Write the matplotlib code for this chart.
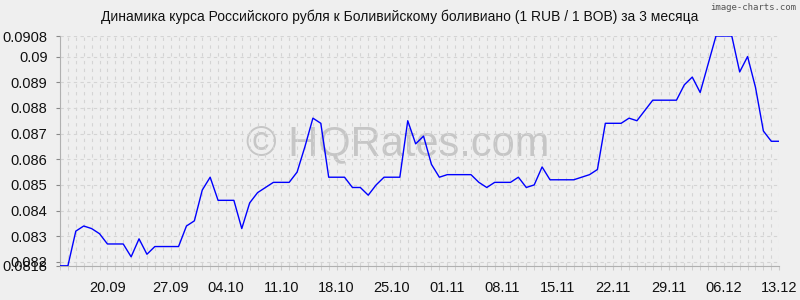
#!/usr/bin/env python
"""RUB / BOB exchange rate over 3 months, styled like the image-charts original."""
import numpy as np
import matplotlib
matplotlib.use("Agg")
import matplotlib.pyplot as plt
from matplotlib.ticker import FixedLocator

TITLE = "Динамика курса Российского рубля к Боливийскому боливиано (1 RUB / 1 BOB) за 3 месяца"

# daily rate, 13.09 .. 13.12
RATES = [
    0.08185, 0.08185, 0.0832, 0.0834, 0.0833, 0.0831, 0.0827, 0.0827, 0.0827, 0.0822,
    0.0829, 0.0823, 0.0826, 0.0826, 0.0826, 0.0826, 0.0834, 0.0836, 0.0848, 0.0853,
    0.0844, 0.0844, 0.0844, 0.0833, 0.0843, 0.0847, 0.0849, 0.0851, 0.0851, 0.0851,
    0.0855, 0.0865, 0.0876, 0.0874, 0.0853, 0.0853, 0.0853, 0.0849, 0.0849, 0.0846,
    0.0850, 0.0853, 0.0853, 0.0853, 0.0875, 0.0866, 0.0869, 0.0858, 0.0853, 0.0854,
    0.0854, 0.0854, 0.0854, 0.0851, 0.0849, 0.0851, 0.0851, 0.0851, 0.0853, 0.0849,
    0.0850, 0.0857, 0.0852, 0.0852, 0.0852, 0.0852, 0.0853, 0.0854, 0.0856, 0.0874,
    0.0874, 0.0874, 0.0876, 0.0875, 0.0879, 0.0883, 0.0883, 0.0883, 0.0883, 0.0889,
    0.0892, 0.0886, 0.0897, 0.0908, 0.0908, 0.0908, 0.0894, 0.0900, 0.0888, 0.0871,
    0.0867, 0.0867,
]

XTICK_POS = [6, 14, 21, 28, 35, 42, 49, 56, 63, 70, 77, 84, 91]
XTICK_LABELS = ["20.09", "27.09", "04.10", "11.10", "18.10", "25.10", "01.11",
                "08.11", "15.11", "22.11", "29.11", "06.12", "13.12"]
YTICK_STEPS = [0.082, 0.083, 0.084, 0.085, 0.086, 0.087, 0.088, 0.089, 0.09]

BG = "#efefef"
GRID = "#d4d4d4"


def main():
    plt.rcParams["font.family"] = ["Liberation Sans", "DejaVu Sans"]

    y = np.array(RATES)
    x = np.arange(len(y))
    ymin, ymax = y.min(), y.max()

    fig = plt.figure(figsize=(8, 3), dpi=100, facecolor=BG)
    ax = fig.add_axes([0.075, 0.114, 0.899, 0.766], facecolor=BG)

    # watermark behind the line
    ax.text(0.47, 0.53, "© HQRates.com", transform=ax.transAxes, ha="center", va="center",
            fontsize=30, color="#c6c6c6", zorder=1)

    ax.plot(x, y, color="#0000ff", linewidth=1.0, zorder=3)

    ax.set_xlim(0, len(y) - 1)
    ax.set_ylim(ymin, ymax)

    yticks = [ymin] + YTICK_STEPS + [ymax]
    ylabels = [f"{np.floor(ymin * 1e4) / 1e4:.4f}"] + [f"{v:g}" for v in YTICK_STEPS] + [f"{ymax:g}"]
    ax.set_yticks(yticks)
    ax.set_yticklabels(ylabels)

    ax.xaxis.set_major_locator(FixedLocator(XTICK_POS))
    ax.set_xticklabels(XTICK_LABELS)
    ax.xaxis.set_minor_locator(FixedLocator(list(x)))

    ax.grid(which="minor", axis="x", color=GRID, linestyle=(0, (3, 4)), linewidth=0.8, zorder=0)
    ax.grid(which="major", axis="x", color=GRID, linestyle=(0, (3, 4)), linewidth=0.8, zorder=0)
    ax.grid(which="major", axis="y", color=GRID, linestyle=(0, (3, 3)), linewidth=0.8, zorder=0)

    ax.tick_params(axis="x", which="both", length=3, color="#cccccc", labelsize=10.5, pad=8,
                   labelcolor="#111111")
    ax.tick_params(axis="y", length=3, color="#888888", labelsize=10.5, pad=6, labelcolor="#111111")

    for side in ("top", "right"):
        ax.spines[side].set_visible(False)
    for side in ("left", "bottom"):
        ax.spines[side].set_color("#b0b0b0")
        ax.spines[side].set_linewidth(0.8)

    fig.text(0.5, 0.943, TITLE, ha="center", va="center", fontsize=10, color="#111111")
    fig.text(0.995, 0.975, "image-charts.com", ha="right", va="center", fontsize=6.5,
             family="DejaVu Sans Mono", color="#555555")

    fig.savefig("out.png", dpi=100, facecolor=BG)
    plt.close(fig)
    return 0


if __name__ == "__main__":
    raise SystemExit(main())
